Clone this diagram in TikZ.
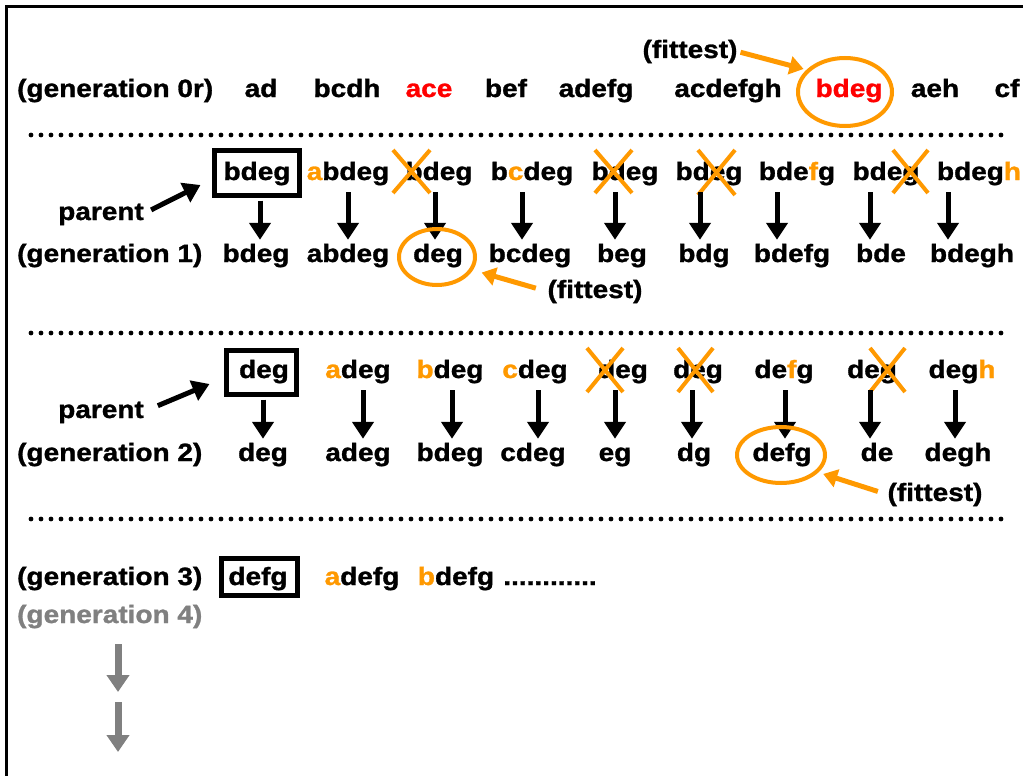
\documentclass[tikz,border=0pt]{standalone}
\usepackage{fontspec}
\setmainfont{Liberation Sans}[FakeStretch=1.12,BoldFeatures={FakeBold=1.2}]
\usetikzlibrary{arrows.meta,shapes.geometric,calc}
\definecolor{org}{HTML}{FF9900}
\definecolor{rd}{HTML}{FF0000}
\definecolor{gry}{HTML}{808080}
\newcommand\og[1]{\textcolor{org}{#1}}
\begin{document}
\begin{tikzpicture}[x=1pt,y=-1pt,
  wd/.style={inner sep=0pt,anchor=base,text height=18pt,text depth=5pt,font=\fontsize{25}{29}\selectfont\bfseries},
  lbl/.style={wd,anchor=base west},
  pbox/.style={draw,line width=5pt,inner sep=0pt},
  barrow/.style={line width=5pt,-{Triangle[width=21pt,length=17pt]}},
  oarrow/.style={draw=org,line width=5pt,-{Triangle[width=18pt,length=14pt]},org},
  garrow/.style={draw=gry,line width=7pt,-{Triangle[width=22pt,length=17pt]},gry},
  ring/.style={draw=org,line width=4pt,ellipse,inner sep=0pt},
  xmark/.style={draw=org,line width=4pt},
  dotline/.style={line width=4.8pt,line cap=round,dash pattern=on 0pt off 10pt}]
\fill[white] (0,0) rectangle (1023,776);
\useasboundingbox (0,0) rectangle (1023,776);
% frame
\draw[line width=3.5pt] (6.5,776) -- (6.5,6.5) -- (1023,6.5);
% dotted separators
\draw[dotline] (31,135) -- (1010,135);
\draw[dotline] (31,333) -- (1010,333);
\draw[dotline] (31,519) -- (1010,519);

% ---------------- generation 0r
\node[lbl] (g0) at (17,97) {(generation 0r)};
\node[wd] (w01) at (261,97) {ad};
\node[wd] (w02) at (347,97) {bcdh};
\node[wd] (w03) at (429,97) {\textcolor{rd}{ace}};
\node[wd] (w04) at (506,97) {bef};
\node[wd] (w05) at (596,97) {adefg};
\node[wd] (w06) at (728,97) {acdefgh};
\node[wd] (w07) at (849,97) {\textcolor{rd}{bdeg}};
\node[wd] (w08) at (935,97) {aeh};
\node[wd] (w09) at (1007,97) {cf};
\node[ring,minimum width=94pt,minimum height=68pt] (c0) at (845,92) {};
\node[wd] (f0) at (690,58) {(fittest)};
\draw[oarrow,shorten <=3pt,shorten >=3pt] (f0.east) -- (c0.150);

% ---------------- generation 1
\node[pbox,minimum width=85pt,minimum height=45pt] (b1) at (257,173) {};
\node[wd] (t1) at (257,180) {bdeg};
\node[wd] (t2) at (348,180) {\og{a}bdeg};
\node[wd] (t3) at (439,180) {bdeg};
\node[wd] (t4) at (532,180) {b\og{c}deg};
\node[wd] (t5) at (625,180) {bdeg};
\node[wd] (t6) at (709,180) {bdeg};
\node[wd] (t7) at (797,180) {bde\og{f}g};
\node[wd] (t8) at (886,180) {bdeg};
\node[wd] (t9) at (979,180) {bdeg\og{h}};
\draw[xmark] (393,150) -- (430,193) (430,150) -- (393,193);
\draw[xmark] (595,150) -- (632,193) (632,150) -- (595,193);
\draw[xmark] (698,150) -- (735,195) (735,150) -- (698,195);
\draw[xmark] (893,150) -- (928,193) (928,150) -- (893,193);

\node[lbl] (g1) at (17,262) {(generation 1)};
\node[wd] (u1) at (256,262) {bdeg};
\node[wd] (u2) at (348,262) {abdeg};
\node[wd] (u3) at (438,262) {deg};
\node[wd] (u4) at (530,262) {bcdeg};
\node[wd] (u5) at (622,262) {beg};
\node[wd] (u6) at (704,262) {bdg};
\node[wd] (u7) at (792,262) {bdefg};
\node[wd] (u8) at (881,262) {bde};
\node[wd] (u9) at (972,262) {bdegh};

\coordinate (ax1) at (260,0);
\draw[barrow,shorten <=2.5pt,shorten >=4pt] (b1.south -| ax1) -- (u1.north -| ax1);
\foreach \i/\a in {2/348,3/435,4/522,5/615,6/700,7/777,8/870,9/948}{
  \coordinate (ax\i) at (\a,0);
  \draw[barrow,shorten <=7pt,shorten >=4pt] (t\i.south -| ax\i) -- (u\i.north -| ax\i);
}
\node[ring,minimum width=76pt,minimum height=56pt] (c1) at (437,257) {};
\node[wd] (f1) at (595,298) {(fittest)};
\draw[oarrow,shorten <=12pt,shorten >=9pt] (f1.west) -- (c1.-20);
\node[wd] (pa1) at (101,220) {parent};
\draw[barrow,shorten <=8pt] (pa1.east) -- ($(b1.west)+(-11.5,12)$);

% ---------------- generation 2
\node[pbox,minimum width=70pt,minimum height=44pt] (b2) at (261.5,372.5) {};
\node[wd] (s1) at (264,378) {deg};
\node[wd] (s2) at (358,378) {\og{a}deg};
\node[wd] (s3) at (450,378) {\og{b}deg};
\node[wd] (s4) at (535,378) {\og{c}deg};
\node[wd] (s5) at (623,378) {deg};
\node[wd] (s6) at (698,378) {deg};
\node[wd] (s7) at (784,378) {de\og{f}g};
\node[wd] (s8) at (872,378) {deg};
\node[wd] (s9) at (962,378) {deg\og{h}};
\draw[xmark] (587,348) -- (623,392) (623,348) -- (587,392);
\draw[xmark] (678,348) -- (713,392) (713,348) -- (678,392);
\draw[xmark] (870,348) -- (905,392) (905,348) -- (870,392);

\node[lbl] (g2) at (17,461) {(generation 2)};
\node[wd] (v1) at (263,461) {deg};
\node[wd] (v2) at (358,461) {adeg};
\node[wd] (v3) at (450,461) {bdeg};
\node[wd] (v4) at (533,461) {cdeg};
\node[wd] (v5) at (615,461) {eg};
\node[wd] (v6) at (694,461) {dg};
\node[wd] (v7) at (782,461) {defg};
\node[wd] (v8) at (877,461) {de};
\node[wd] (v9) at (958,461) {degh};

\coordinate (bx1) at (263,0);
\draw[barrow,shorten <=2.5pt,shorten >=4pt] (b2.south -| bx1) -- (v1.north -| bx1);
\foreach \i/\a in {2/363,3/452,4/538,5/615,6/692,7/785,8/870,9/955}{
  \coordinate (bx\i) at (\a,0);
  \draw[barrow,shorten <=7pt,shorten >=4pt] (s\i.south -| bx\i) -- (v\i.north -| bx\i);
}
\node[ring,minimum width=88pt,minimum height=56pt] (c2) at (781,455) {};
\node[wd] (f2) at (935,501) {(fittest)};
\draw[oarrow,shorten <=10pt,shorten >=5pt] (f2.west) -- (c2.-25);
\node[wd] (pa2) at (101,418) {parent};
\draw[barrow,shorten <=15pt] (pa2.east) -- ($(b2.west)+(-14.5,11.5)$);

% ---------------- generation 3 and 4
\node[lbl] (g3) at (17,585) {(generation 3)};
\node[pbox,minimum width=76pt,minimum height=37pt] (b3) at (259.5,577) {};
\node[wd] (p3) at (258,585) {defg};
\node[wd] (r2) at (362,585) {\og{a}defg};
\node[wd] (r3) at (456,585) {\og{b}defg};
\node[wd] (r4) at (550,585) {............};
\node[lbl,text=gry] (g4) at (17,623) {(generation 4)};
\coordinate (q0) at (118,0);
\coordinate (q1) at (118,692);
\coordinate (q2) at (118,702);
\coordinate (q3) at (118,752);
\draw[garrow,shorten <=16pt] (g4.south -| q0) -- (q1);
\draw[garrow] (q2) -- (q3);
\end{tikzpicture}
\end{document}
